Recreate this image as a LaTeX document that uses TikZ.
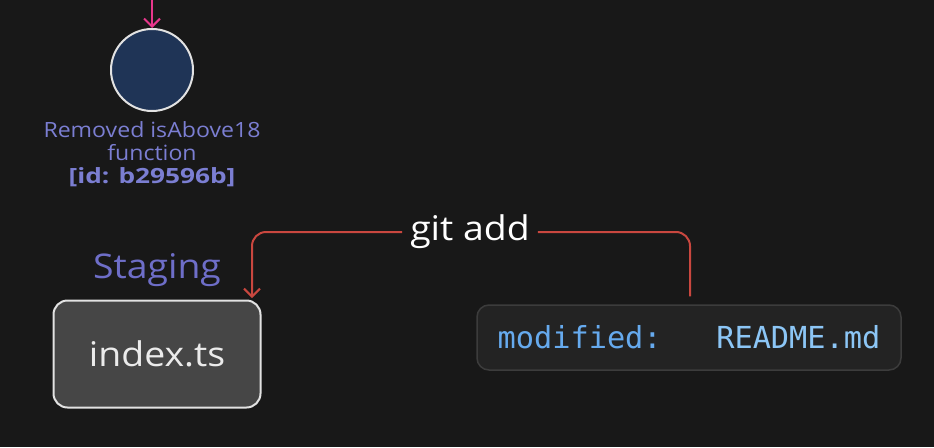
\documentclass[tikz,border=0pt]{standalone}
\usepackage{fontspec}
\setmainfont{Open Sans}[FakeStretch=1.1]
\newfontfamily\widebold{Open Sans}[FakeStretch=1.25]
\newfontfamily\monofnt{DejaVu Sans Mono}
\usetikzlibrary{arrows.meta,calc}
\definecolor{bgc}{HTML}{181818}
\definecolor{navy}{HTML}{1F3456}
\definecolor{ring}{HTML}{E2E2E2}
\definecolor{lav}{HTML}{7B7ED2}
\definecolor{stg}{HTML}{6E6EC8}
\definecolor{boxf}{HTML}{464646}
\definecolor{boxs}{HTML}{E2E2E2}
\definecolor{rdf}{HTML}{232323}
\definecolor{rds}{HTML}{3C3C3C}
\definecolor{blu}{HTML}{66AAEE}
\definecolor{blu2}{HTML}{8CC6F6}
\definecolor{redc}{HTML}{C9473F}
\definecolor{pink}{HTML}{E8378C}
\tikzset{
  barb/.style={-{Straight Barb[length=8pt,width=16pt,line width=2pt]}},
  conn/.style={draw=redc,line width=2pt,rounded corners=14pt},
}
\begin{document}
\begin{tikzpicture}[x=1pt,y=-1pt]
\fill[bgc] (0,0) rectangle (934,447);
\useasboundingbox (0,0) rectangle (934,447);
\node[circle,minimum size=82pt,fill=navy,draw=ring,line width=2pt] (c) at (152,70) {};
\coordinate (ptop) at (152,-6);
\draw[pink,line width=2pt,barb] (ptop) -- (c.north);
\node[align=center,text=lav,font=\fontsize{21}{23}\selectfont,inner sep=0pt] (lbl) at (152,154) {Removed isAbove18\\function\\{\widebold\bfseries [id: b29596b]}};
\node[text=stg,font=\fontsize{34}{38}\selectfont,inner sep=0pt] (stg) at (157,270) {Staging};
\node[draw=boxs,fill=boxf,line width=2pt,rounded corners=14pt,minimum width=207pt,minimum height=107pt,text=white!92!black,font=\fontsize{34}{40}\selectfont] (idx) at (157,354) {index.ts};
\node[draw=rds,fill=rdf,line width=1.5pt,rounded corners=12pt,minimum width=424pt,minimum height=65pt,font=\monofnt\fontsize{30.3}{36}\selectfont] (rd) at (689,337.5) {\textcolor{blu}{modified:}\hspace{0.6em}\hspace{0.6em}\hspace{0.6em}\textcolor{blu2}{README.md}};
\node[text=white,font=\fontsize{34}{40}\selectfont,inner xsep=8pt,inner ysep=0pt] (git) at (470,232) {git add};
\coordinate (idxin) at (252,298);
\draw[conn] ([yshift=8pt,xshift=1pt]rd.north) |- (git.east);
\draw[conn,barb] (git.west) -| (idxin);
\end{tikzpicture}
\end{document}
